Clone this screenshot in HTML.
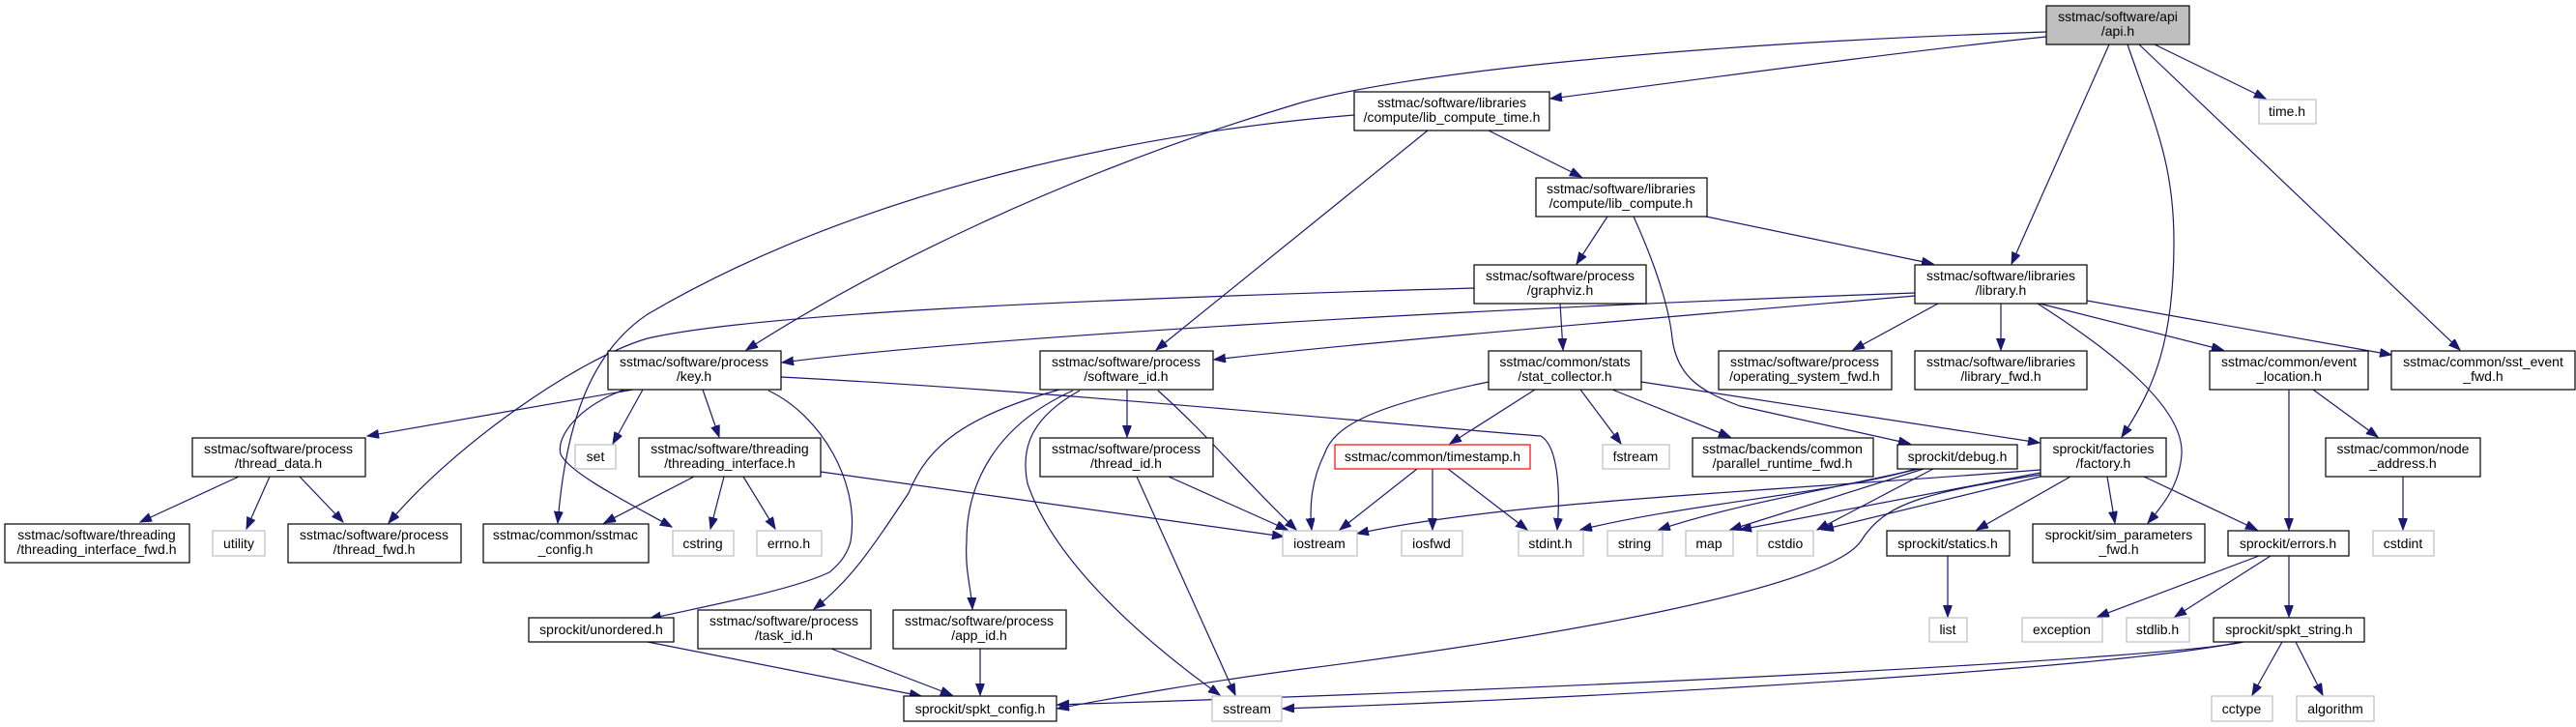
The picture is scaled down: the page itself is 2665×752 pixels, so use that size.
<!DOCTYPE html>
<html><head><meta charset="utf-8"><style>
html,body{margin:0;padding:0;background:#fff;}
svg{display:block;}
text{font-family:"Liberation Sans",sans-serif;font-size:14px;fill:#000;text-anchor:middle;}
.e{fill:none;stroke:#191970;stroke-width:1.2;marker-end:url(#a);}
.b{fill:#fff;stroke:#000;stroke-width:1.2;}
.g{fill:#fff;stroke:#bfbfbf;stroke-width:1.2;}
</style></head><body>
<svg width="2665" height="752" viewBox="0 0 2665 752" xmlns="http://www.w3.org/2000/svg">
<defs><marker id="a" markerUnits="userSpaceOnUse" markerWidth="13" markerHeight="10" refX="12" refY="4.5" orient="auto"><path d="M0,0 L12,4.5 L0,9 z" fill="#191970" stroke="#191970"/></marker></defs>

<path class="e" d="M2117,38 C1950,55 1700,90 1604,102"/>
<path class="e" d="M2117,33 C1750,45 1450,75 1340,108 C1100,180 900,280 772,362"/>
<path class="e" d="M1401,119 C1200,135 900,190 670,325 C610,365 585,440 577,541"/>
<path class="e" d="M2229,46 L2344,102"/>
<path class="e" d="M2182,46 L2081,273"/>
<path class="e" d="M2201,46 C2230,130 2249,170 2249,250 C2249,350 2230,400 2195,452"/>
<path class="e" d="M2213,46 L2545,362"/>
<path class="e" d="M1540,135 L1636,183"/>
<path class="e" d="M1477,135 L1196,362"/>
<path class="e" d="M1663,224 L1631,273"/>
<path class="e" d="M1765,224 L2000,273"/>
<path class="e" d="M1690,224 C1720,290 1728,330 1730,350 C1735,390 1760,405 1800,420 L1976,459"/>
<path class="e" d="M1525,298 C1100,310 780,325 670,350 C600,370 470,460 402,541"/>
<path class="e" d="M1614,314 L1617,362"/>
<path class="e" d="M1981,303 C1500,320 1000,350 809,375"/>
<path class="e" d="M1981,306 C1700,330 1400,355 1256,372"/>
<path class="e" d="M2005,314 L1917,362"/>
<path class="e" d="M2070,314 L2070,362"/>
<path class="e" d="M2110,314 L2300,362"/>
<path class="e" d="M2159,311 L2474,367"/>
<path class="e" d="M2108,314 C2180,360 2260,420 2257,470 C2255,500 2240,520 2222,541"/>
<path class="e" d="M655,403 L380,451"/>
<path class="e" d="M665,403 L634,459"/>
<path class="e" d="M727,403 L744,452"/>
<path class="e" d="M646,403 C600,420 575,450 580,470 C590,490 650,520 695,545"/>
<path class="e" d="M795,404 C850,430 890,500 880,560 C875,580 860,590 858,592 C820,610 740,625 672,640"/>
<path class="e" d="M808,390 C1100,405 1450,440 1594,451 C1610,460 1615,500 1611,548"/>
<path class="e" d="M247,493 L145,540"/>
<path class="e" d="M279,493 L255,547"/>
<path class="e" d="M310,493 L355,540"/>
<path class="e" d="M718,493 L625,541"/>
<path class="e" d="M749,493 L735,547"/>
<path class="e" d="M769,493 L802,547"/>
<path class="e" d="M849,488 L1328,555"/>
<path class="e" d="M670,664 L953,720"/>
<path class="e" d="M860,671 L985,719"/>
<path class="e" d="M1014,671 L1014,719"/>
<path class="e" d="M1096,403 C1000,430 960,460 940,510 C900,570 880,600 842,630"/>
<path class="e" d="M1110,404 C1030,440 1000,500 1000,560 C998,590 1005,610 1006,630"/>
<path class="e" d="M1166,403 L1166,452"/>
<path class="e" d="M1117,404 C1070,430 1055,460 1063,500 C1090,580 1180,660 1262,719"/>
<path class="e" d="M1198,404 C1250,450 1290,500 1341,548"/>
<path class="e" d="M1209,493 L1332,548"/>
<path class="e" d="M1176,493 L1278,719"/>
<path class="e" d="M1540,395 C1420,420 1380,440 1370,470 C1355,500 1355,530 1357,548"/>
<path class="e" d="M1588,403 L1500,459"/>
<path class="e" d="M1635,403 L1677,459"/>
<path class="e" d="M1668,403 L1790,452"/>
<path class="e" d="M1698,395 L2110,458"/>
<path class="e" d="M1466,485 L1386,548"/>
<path class="e" d="M1482,485 L1482,548"/>
<path class="e" d="M1498,485 L1580,548"/>
<path class="e" d="M1982,485 C1900,510 1750,520 1635,548"/>
<path class="e" d="M1985,485 C1900,505 1800,520 1716,548"/>
<path class="e" d="M1990,485 L1790,548"/>
<path class="e" d="M2000,485 L1880,548"/>
<path class="e" d="M2111,486 C1800,510 1550,520 1404,552"/>
<path class="e" d="M2111,489 L1800,548"/>
<path class="e" d="M2111,493 L1885,548"/>
<path class="e" d="M2142,493 L2045,548"/>
<path class="e" d="M2180,493 L2188,541"/>
<path class="e" d="M2218,493 L2335,548"/>
<path class="e" d="M2111,491 C1990,510 1950,520 1925,560 C1890,610 1600,660 1340,693 C1250,705 1150,722 1094,733"/>
<path class="e" d="M2368,403 L2368,548"/>
<path class="e" d="M2393,403 L2460,452"/>
<path class="e" d="M2486,493 L2486,548"/>
<path class="e" d="M2337,575 L2170,638"/>
<path class="e" d="M2349,575 L2250,638"/>
<path class="e" d="M2368,575 L2368,638"/>
<path class="e" d="M2361,664 L2330,719"/>
<path class="e" d="M2375,664 L2403,719"/>
<path class="e" d="M2321,664 C2250,680 1700,710 1094,729"/>
<path class="e" d="M2318,664 C2200,690 1700,720 1327,733"/>
<path class="e" d="M2015,575 L2015,638"/>

<rect x="2117" y="6" width="148" height="40" fill="#bfbfbf" stroke="#000" stroke-width="1.2"/><text x="2191" y="22">sstmac/software/api</text><text x="2191" y="37">/api.h</text>
<rect class="b" x="1401" y="95" width="202" height="40"/><text x="1502" y="111">sstmac/software/libraries</text><text x="1502" y="126">/compute/lib_compute_time.h</text>
<rect class="g" x="2337" y="103" width="59" height="25"/><text x="2366" y="120">time.h</text>
<rect class="b" x="1589" y="184" width="177" height="40"/><text x="1677" y="200">sstmac/software/libraries</text><text x="1677" y="215">/compute/lib_compute.h</text>
<rect class="b" x="1525" y="274" width="178" height="40"/><text x="1614" y="290">sstmac/software/process</text><text x="1614" y="305">/graphviz.h</text>
<rect class="b" x="1981" y="274" width="178" height="40"/><text x="2070" y="290">sstmac/software/libraries</text><text x="2070" y="305">/library.h</text>
<rect class="b" x="629" y="363" width="179" height="40"/><text x="718" y="379">sstmac/software/process</text><text x="718" y="394">/key.h</text>
<rect class="b" x="1076" y="363" width="179" height="40"/><text x="1165" y="379">sstmac/software/process</text><text x="1165" y="394">/software_id.h</text>
<rect class="b" x="1540" y="363" width="158" height="40"/><text x="1619" y="379">sstmac/common/stats</text><text x="1619" y="394">/stat_collector.h</text>
<rect class="b" x="1778" y="363" width="179" height="40"/><text x="1867" y="379">sstmac/software/process</text><text x="1867" y="394">/operating_system_fwd.h</text>
<rect class="b" x="1981" y="363" width="178" height="40"/><text x="2070" y="379">sstmac/software/libraries</text><text x="2070" y="394">/library_fwd.h</text>
<rect class="b" x="2286" y="363" width="164" height="40"/><text x="2368" y="379">sstmac/common/event</text><text x="2368" y="394">_location.h</text>
<rect class="b" x="2474" y="363" width="190" height="40"/><text x="2569" y="379">sstmac/common/sst_event</text><text x="2569" y="394">_fwd.h</text>
<rect class="b" x="199" y="453" width="179" height="40"/><text x="288" y="469">sstmac/software/process</text><text x="288" y="484">/thread_data.h</text>
<rect class="b" x="661" y="453" width="188" height="40"/><text x="755" y="469">sstmac/software/threading</text><text x="755" y="484">/threading_interface.h</text>
<rect class="b" x="1076" y="453" width="179" height="40"/><text x="1165" y="469">sstmac/software/process</text><text x="1165" y="484">/thread_id.h</text>
<rect x="1381" y="460" width="202" height="25" fill="#fff" stroke="#ff0000" stroke-width="1.2"/><text x="1482" y="477">sstmac/common/timestamp.h</text>
<rect class="g" x="1658" y="460" width="69" height="25"/><text x="1692" y="477">fstream</text>
<rect class="b" x="1751" y="453" width="187" height="40"/><text x="1844" y="469">sstmac/backends/common</text><text x="1844" y="484">/parallel_runtime_fwd.h</text>
<rect class="b" x="1963" y="460" width="124" height="25"/><text x="2025" y="477">sprockit/debug.h</text>
<rect class="b" x="2111" y="453" width="130" height="40"/><text x="2176" y="469">sprockit/factories</text><text x="2176" y="484">/factory.h</text>
<rect class="b" x="2406" y="453" width="160" height="40"/><text x="2486" y="469">sstmac/common/node</text><text x="2486" y="484">_address.h</text>
<rect class="g" x="595" y="460" width="42" height="25"/><text x="616" y="477">set</text>
<rect class="b" x="5" y="542" width="191" height="40"/><text x="100" y="558">sstmac/software/threading</text><text x="100" y="573">/threading_interface_fwd.h</text>
<rect class="g" x="220" y="549" width="54" height="26"/><text x="247" y="567">utility</text>
<rect class="b" x="298" y="542" width="179" height="40"/><text x="387" y="558">sstmac/software/process</text><text x="387" y="573">/thread_fwd.h</text>
<rect class="b" x="500" y="542" width="171" height="40"/><text x="585" y="558">sstmac/common/sstmac</text><text x="585" y="573">_config.h</text>
<rect class="g" x="696" y="549" width="63" height="26"/><text x="727" y="567">cstring</text>
<rect class="g" x="783" y="549" width="67" height="26"/><text x="816" y="567">errno.h</text>
<rect class="g" x="1327" y="549" width="77" height="26"/><text x="1365" y="567">iostream</text>
<rect class="g" x="1450" y="549" width="63" height="26"/><text x="1481" y="567">iosfwd</text>
<rect class="g" x="1571" y="549" width="67" height="26"/><text x="1604" y="567">stdint.h</text>
<rect class="g" x="1663" y="549" width="57" height="26"/><text x="1691" y="567">string</text>
<rect class="g" x="1744" y="549" width="49" height="26"/><text x="1768" y="567">map</text>
<rect class="g" x="1818" y="549" width="58" height="26"/><text x="1847" y="567">cstdio</text>
<rect class="b" x="1952" y="549" width="127" height="26"/><text x="2015" y="567">sprockit/statics.h</text>
<rect class="b" x="2103" y="542" width="178" height="40"/><text x="2192" y="558">sprockit/sim_parameters</text><text x="2192" y="573">_fwd.h</text>
<rect class="b" x="2305" y="549" width="125" height="26"/><text x="2367" y="567">sprockit/errors.h</text>
<rect class="g" x="2455" y="549" width="63" height="26"/><text x="2486" y="567">cstdint</text>
<rect class="b" x="547" y="639" width="150" height="25"/><text x="622" y="656">sprockit/unordered.h</text>
<rect class="b" x="722" y="631" width="179" height="40"/><text x="811" y="647">sstmac/software/process</text><text x="811" y="662">/task_id.h</text>
<rect class="b" x="924" y="631" width="179" height="40"/><text x="1013" y="647">sstmac/software/process</text><text x="1013" y="662">/app_id.h</text>
<rect class="g" x="1996" y="639" width="39" height="25"/><text x="2015" y="656">list</text>
<rect class="g" x="2092" y="639" width="83" height="25"/><text x="2133" y="656">exception</text>
<rect class="g" x="2200" y="639" width="65" height="25"/><text x="2232" y="656">stdlib.h</text>
<rect class="b" x="2290" y="639" width="156" height="25"/><text x="2368" y="656">sprockit/spkt_string.h</text>
<rect class="b" x="935" y="720" width="158" height="26"/><text x="1014" y="738">sprockit/spkt_config.h</text>
<rect class="g" x="1254" y="720" width="72" height="26"/><text x="1290" y="738">sstream</text>
<rect class="g" x="2288" y="720" width="63" height="26"/><text x="2319" y="738">cctype</text>
<rect class="g" x="2376" y="720" width="80" height="26"/><text x="2416" y="738">algorithm</text>
</svg>
</body></html>
